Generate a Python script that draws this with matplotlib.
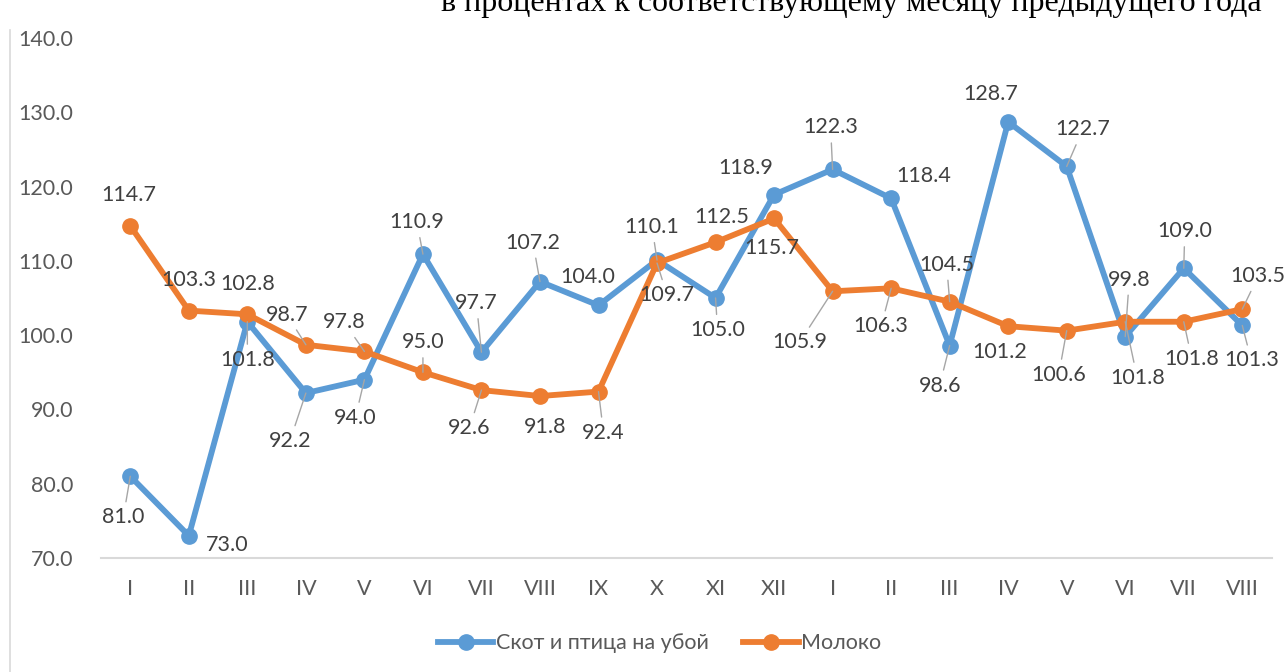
import matplotlib
matplotlib.use("Agg")
import matplotlib.pyplot as plt
from matplotlib.lines import Line2D
import numpy as np

plt.rcParams['font.family'] = ['Lato', 'Noto Sans', 'DejaVu Sans']

#______________________________data______________________________
months = ['I', 'II', 'III', 'IV', 'V', 'VI', 'VII', 'VIII', 'IX', 'X', 'XI', 'XII',
          'I', 'II', 'III', 'IV', 'V', 'VI', 'VII', 'VIII']
skot = [81.0, 73.0, 101.8, 92.2, 94.0, 110.9, 97.7, 107.2, 104.0, 110.1, 105.0, 118.9,
        122.3, 118.4, 98.6, 128.7, 122.7, 99.8, 109.0, 101.3]
moloko = [114.7, 103.3, 102.8, 98.7, 97.8, 95.0, 92.6, 91.8, 92.4, 109.7, 112.5, 115.7,
          105.9, 106.3, 104.5, 101.2, 100.6, 101.8, 101.8, 103.5]
name_skot = 'Скот и птица на убой'
name_moloko = 'Молоко'
title = 'в процентах к соответствующему месяцу предыдущего года'

# label offsets in pixels (dx, dy) and whether a leader line is drawn
skot_off = [(-7, -41), (38, -9), (0, -38), (-16, -48), (-9, -38), (-6, 32), (-5, 49),
            (-7, 39), (-11, 28), (-5, 33), (2, -32), (-28, 27), (-2, 42), (33, 22),
            (-10, -40), (-17, 28), (16, 37), (4, 57), (1, 37), (9, -35)]
skot_lead = [1, 0, 1, 1, 1, 1, 1, 1, 0, 1, 1, 0, 1, 0, 1, 0, 1, 1, 1, 1]
mol_off = [(-1, 31), (0, 31), (0, 30), (-19, 30), (-20, 29), (0, 30), (-12, -38),
           (5, -31), (5, -41), (10, -32), (6, 25), (-2, -30), (-33, -51), (-10, -38),
           (-3, 37), (-9, -26), (-8, -44), (12, -56), (8, -37), (16, 33)]
mol_lead = [0, 0, 0, 1, 1, 1, 1, 0, 1, 1, 0, 0, 1, 1, 1, 0, 1, 1, 1, 1]

BLUE = '#5B9BD5'
ORANGE = '#ED7D31'
TXT = '#404040'
GREY = '#595959'
FS = 15.5

fig = plt.figure(figsize=(12.87, 6.72), dpi=100)
ax = fig.add_axes([0.0785, 0.1696, 0.9095, 0.774])

x = np.arange(len(months))
ax.plot(x, skot, color=BLUE, lw=4.2, marker='o', ms=11, label=name_skot, zorder=3)
ax.plot(x, moloko, color=ORANGE, lw=4.2, marker='o', ms=11, label=name_moloko, zorder=4)


def put_labels(vals, offs, leads):
    for i, v in enumerate(vals):
        kw = {}
        if leads[i]:
            kw['arrowprops'] = dict(arrowstyle='-', color='#a6a6a6', lw=1.0,
                                    shrinkA=2, shrinkB=0)
        ax.annotate('%.1f' % v, xy=(i, v), xytext=offs[i], textcoords='offset pixels',
                    ha='center', va='center', fontsize=FS, color=TXT, zorder=5, **kw)


put_labels(skot, skot_off, skot_lead)
put_labels(moloko, mol_off, mol_lead)

ax.set_xlim(-0.5, len(months) - 0.5)
ax.set_ylim(70, 140)
ax.set_yticks(np.arange(70, 141, 10))
ax.set_yticklabels(['%.1f' % t for t in np.arange(70, 141, 10)])
ax.set_xticks(x)
ax.set_xticklabels(months)
ax.tick_params(axis='both', length=0, labelsize=FS, labelcolor=GREY)
ax.tick_params(axis='y', pad=20)
ax.tick_params(axis='x', pad=15)
for s in ['top', 'right', 'left']:
    ax.spines[s].set_visible(False)
ax.spines['bottom'].set_color('#d9d9d9')
ax.spines['bottom'].set_linewidth(1.5)

leg = ax.legend(loc='center', bbox_to_anchor=(0.477, -0.164), ncol=2, frameon=False,
                fontsize=FS, handlelength=2.6, handletextpad=0.1, columnspacing=1.6)
for t in leg.get_texts():
    t.set_color(GREY)

# chart border on the left
fig.add_artist(Line2D([10 / 1287, 10 / 1287], [0, 1 - 30 / 672], color='#d9d9d9', lw=1.2))

fig.text(1262 / 1287, 1 - 11 / 672, title, ha='right', va='baseline',
         family=['Liberation Serif'], fontsize=23, color='black')

fig.savefig('out.png', dpi=100)
